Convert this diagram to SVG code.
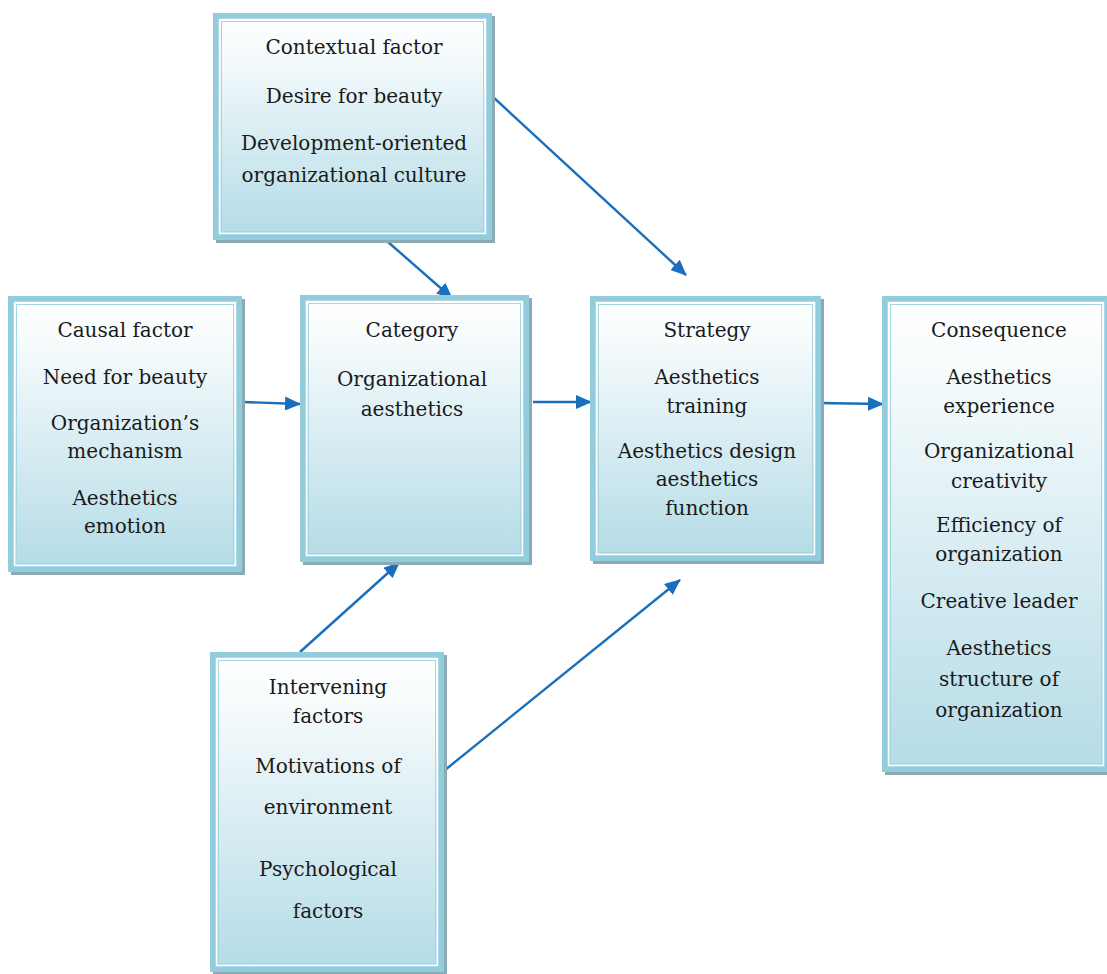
<svg xmlns="http://www.w3.org/2000/svg" width="1107" height="974" viewBox="0 0 1107 974">
  <style>
    .shadow { fill: #8aaab4; }
    .band { fill: #93cddd; }
    .face { fill: url(#faceGrad); stroke: #ffffff; stroke-width: 1.5; }
    .rim { fill: none; stroke: #a5d6e2; stroke-width: 1; }
    .label { font-family: 'DejaVu Serif', serif; font-size: 20px; fill: #1a1a1a; text-anchor: middle; }
    .link { stroke: #1a6fbd; stroke-width: 2.4; fill: none; marker-end: url(#head); }
  </style>
  <defs>
    <linearGradient id="faceGrad" x1="0" y1="0" x2="0" y2="1">
      <stop offset="0" stop-color="#ffffff"/>
      <stop offset="0.15" stop-color="#f6fbfc"/>
      <stop offset="1" stop-color="#b5dce7"/>
    </linearGradient>
    <marker id="head" markerWidth="16" markerHeight="14" refX="15" refY="7" orient="auto" markerUnits="userSpaceOnUse">
      <path d="M0,0 L16,7 L0,14 Z" fill="#1a6fbd"/>
    </marker>
  </defs>

  <rect width="1107" height="974" fill="#ffffff"/>

  <!-- connectors -->
  <g id="connectors">
    <line class="link" x1="243" y1="402" x2="300" y2="404"/>
    <line class="link" x1="533" y1="402" x2="591" y2="402"/>
    <line class="link" x1="819" y1="403" x2="883" y2="404"/>
    <line class="link" x1="388" y1="242" x2="452" y2="298"/>
    <line class="link" x1="493" y1="97" x2="686" y2="275"/>
    <line class="link" x1="300" y1="652" x2="399" y2="563"/>
    <line class="link" x1="445" y1="770" x2="680" y2="580"/>
  </g>

  <!-- Contextual factor -->
  <g id="contextual">
    <rect class="shadow" x="216" y="16" width="279" height="227"/>
    <rect class="band" x="213" y="13" width="279" height="227"/>
    <rect class="face" x="219.5" y="19.5" width="266" height="214"/>
    <rect class="rim" x="221.5" y="21.5" width="262" height="210"/>
    <text class="label" x="354" y="54">Contextual factor</text>
    <text class="label" x="354" y="103">Desire for beauty</text>
    <text class="label" x="354" y="150">Development-oriented</text>
    <text class="label" x="354" y="182">organizational culture</text>
  </g>

  <!-- Causal factor -->
  <g id="causal">
    <rect class="shadow" x="11" y="299" width="234" height="276"/>
    <rect class="band" x="8" y="296" width="234" height="276"/>
    <rect class="face" x="14.5" y="302.5" width="221" height="263"/>
    <rect class="rim" x="16.5" y="304.5" width="217" height="259"/>
    <text class="label" x="125" y="337">Causal factor</text>
    <text class="label" x="125" y="384">Need for beauty</text>
    <text class="label" x="125" y="430">Organization’s</text>
    <text class="label" x="125" y="458">mechanism</text>
    <text class="label" x="125" y="505">Aesthetics</text>
    <text class="label" x="125" y="533">emotion</text>
  </g>

  <!-- Category -->
  <g id="category">
    <rect class="shadow" x="303" y="298" width="229" height="267"/>
    <rect class="band" x="300" y="295" width="229" height="267"/>
    <rect class="face" x="306.5" y="301.5" width="216" height="254"/>
    <rect class="rim" x="308.5" y="303.5" width="212" height="250"/>
    <text class="label" x="412" y="337">Category</text>
    <text class="label" x="412" y="386">Organizational</text>
    <text class="label" x="412" y="416">aesthetics</text>
  </g>

  <!-- Strategy -->
  <g id="strategy">
    <rect class="shadow" x="593" y="299" width="231" height="265"/>
    <rect class="band" x="590" y="296" width="231" height="265"/>
    <rect class="face" x="596.5" y="302.5" width="218" height="252"/>
    <rect class="rim" x="598.5" y="304.5" width="214" height="248"/>
    <text class="label" x="707" y="337">Strategy</text>
    <text class="label" x="707" y="384">Aesthetics</text>
    <text class="label" x="707" y="413">training</text>
    <text class="label" x="707" y="458">Aesthetics design</text>
    <text class="label" x="707" y="486">aesthetics</text>
    <text class="label" x="707" y="515">function</text>
  </g>

  <!-- Consequence -->
  <g id="consequence">
    <rect class="shadow" x="885" y="299" width="228" height="476"/>
    <rect class="band" x="882" y="296" width="228" height="476"/>
    <rect class="face" x="888.5" y="302.5" width="215" height="463"/>
    <rect class="rim" x="890.5" y="304.5" width="211" height="459"/>
    <text class="label" x="999" y="337">Consequence</text>
    <text class="label" x="999" y="384">Aesthetics</text>
    <text class="label" x="999" y="413">experience</text>
    <text class="label" x="999" y="458">Organizational</text>
    <text class="label" x="999" y="488">creativity</text>
    <text class="label" x="999" y="532">Efficiency of</text>
    <text class="label" x="999" y="561">organization</text>
    <text class="label" x="999" y="608">Creative leader</text>
    <text class="label" x="999" y="655">Aesthetics</text>
    <text class="label" x="999" y="686">structure of</text>
    <text class="label" x="999" y="717">organization</text>
  </g>

  <!-- Intervening factors -->
  <g id="intervening">
    <rect class="shadow" x="213" y="655" width="234" height="320"/>
    <rect class="band" x="210" y="652" width="234" height="320"/>
    <rect class="face" x="216.5" y="658.5" width="221" height="307"/>
    <rect class="rim" x="218.5" y="660.5" width="217" height="303"/>
    <text class="label" x="328" y="694">Intervening</text>
    <text class="label" x="328" y="723">factors</text>
    <text class="label" x="328" y="773">Motivations of</text>
    <text class="label" x="328" y="814">environment</text>
    <text class="label" x="328" y="876">Psychological</text>
    <text class="label" x="328" y="918">factors</text>
  </g>
</svg>
